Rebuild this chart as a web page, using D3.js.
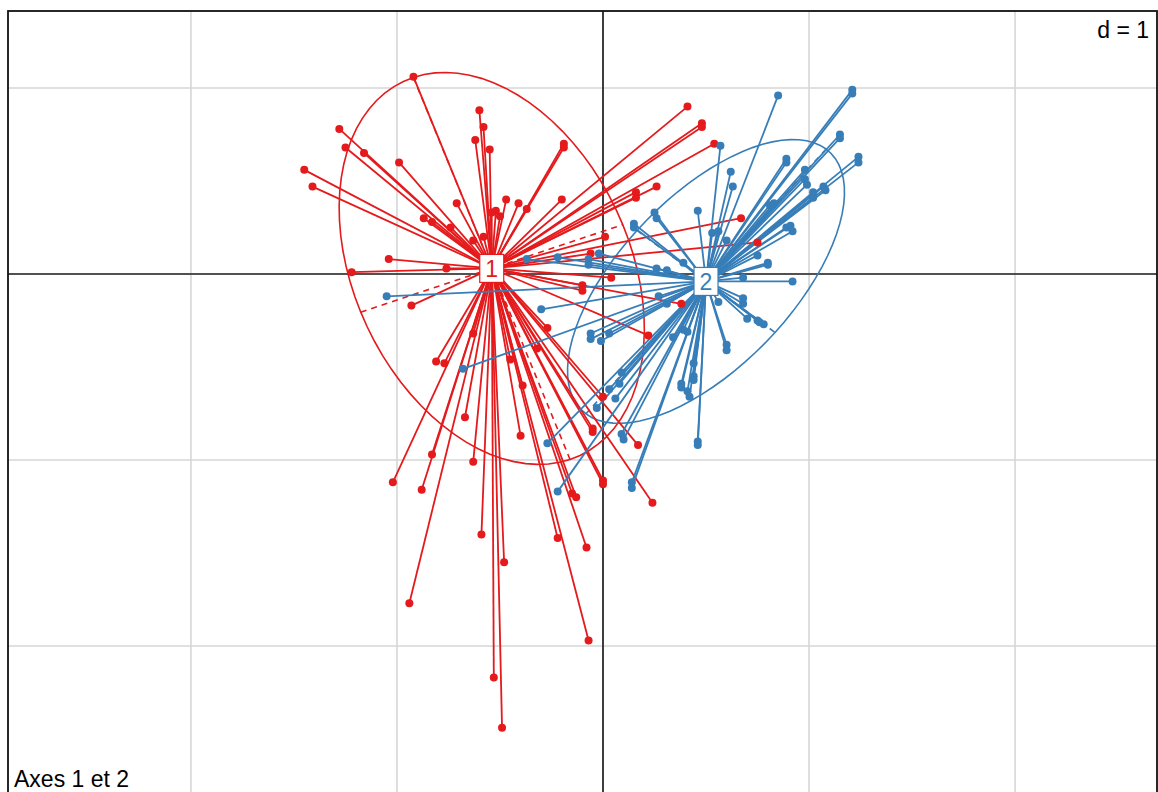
<!DOCTYPE html>
<html>
<head>
<meta charset="utf-8">
<script src="https://cdn.jsdelivr.net/npm/d3@7"></script>
<style>
  body { margin: 0; background: #fff; }
  svg { display: block; font-family: "Liberation Sans", Arial, sans-serif; }
</style>
</head>
<body>
<div id="chart"></div>
<script>
// group 1 points (in axis units)
var redX = [-0.92, -0.60, -0.58, -0.62, -0.55, -1.28, -1.25, -1.16, -0.99, -1.45, -1.41, -0.71, -0.47, -0.41, -0.37,
  -0.87, -0.83, -0.74, -0.63, -0.58, -0.52, -0.54, -0.50, -1.04, -1.22, -0.76, -0.20, -0.19, -0.19, 0.41,
  0.48, 0.48, 0.54, 0.16, 0.16, 0.26, 0.01, -0.06, -0.10, -0.10, 0.04, 0.38, -0.93, 0.67, 0.75,
  -0.63, -0.81, -0.77, -0.27, -0.32, -0.45, -0.39, -0.67, -0.40, -0.05, -0.05, 0.22, 0.00, 0.17, -1.02,
  -0.83, -0.88, -0.63, 0.24, -0.15, -0.13, -0.59, -0.22, -0.94, -0.48, -0.53, -0.49, -0.08, -0.07, 0.00, 0.00]
var redY = [1.06, 0.88, 0.79, 0.72, 0.67, 0.78, 0.68, 0.65, 0.60, 0.56, 0.47, 0.38, 0.40, 0.38, 0.35,
  0.30, 0.28, 0.25, 0.18, 0.20, 0.34, 0.33, 0.31, 0.08, 0.01, 0.03, 0.40, 0.70, 0.68, 0.90,
  0.81, 0.79, 0.70, 0.44, 0.41, 0.47, 0.20, 0.11, -0.06, -0.09, -0.02, -0.16, -0.17, 0.30, 0.17,
  -0.32, -0.47, -0.48, -0.29, -0.40, -0.46, -0.60, -0.77, -0.87, -0.83, -0.85, -0.33, -1.11, -0.92, -1.12,
  -0.97, -1.16, -1.01, -1.23, -1.18, -1.20, -1.40, -1.42, -1.77, -1.55, -2.17, -2.44, -1.47, -1.97, -0.66, -1.13]

// group 2 points
var blueX = [0.85, 1.21, 1.21, 1.15, 1.15, 1.24, 1.24, 0.57, 0.89, 0.89, 0.62, 0.63, 0.98, 0.98, 0.99,
  1.07, 1.08, 1.02, 1.02, 0.81, 0.46, 0.89, 0.91, 0.92, 0.53, 0.56, 0.60, 0.75, 0.80, 0.80,
  0.68, 0.92, 0.39, 0.15, 0.15, 0.25, 0.26, 0.26, 0.31, -0.22, -0.02, -0.07, -0.07, -0.37, -1.05,
  -0.30, 0.27, 0.31, 0.56, 0.68, 0.68, 0.70, 0.75, 0.76, 0.78, 0.60, 0.60, 0.44, 0.44, 0.44,
  0.38, 0.38, 0.41, 0.42, 0.34, 0.39, 0.41, -0.06, -0.06, -0.01, 0.03, 0.09, 0.08, 0.03, 0.06,
  -0.03, -0.27, 0.09, 0.10, 0.46, 0.46, -0.22, 0.14, 0.14, -0.68, 0.83]
var blueY = [0.96, 0.99, 0.97, 0.75, 0.73, 0.63, 0.60, 0.69, 0.62, 0.60, 0.55, 0.47, 0.56, 0.51, 0.48,
  0.47, 0.45, 0.44, 0.41, 0.37, 0.34, 0.25, 0.26, 0.23, 0.22, 0.23, 0.18, 0.10, 0.06, 0.05,
  -0.02, -0.04, 0.06, 0.27, 0.25, 0.33, 0.30, 0.03, 0.02, 0.09, 0.11, 0.08, 0.05, 0.08, -0.12,
  -0.19, -0.12, -0.16, -0.15, -0.13, -0.16, -0.24, -0.25, -0.26, -0.27, -0.38, -0.41, -0.48, -0.55, -0.57,
  -0.59, -0.61, -0.63, -0.66, -0.34, -0.30, -0.31, -0.32, -0.35, -0.36, -0.32, -0.53, -0.59, -0.62, -0.67,
  -0.72, -0.91, -0.86, -0.89, -0.90, -0.92, -1.17, -1.12, -1.15, -0.51, 0.38]

var groupNames = ["1", "2"]
var groupColors = ["#E41A1C", "#377EB8"]
var centroidX = [-0.54, 0.50]
var centroidY = [0.03, -0.04]
// ellipse semi axes and angle of the first axis (degrees)
var ellA = [1.095, 0.92]
var ellB = [0.678, 0.433]
var ellAngle = [110.3, 50.7]

var gridX = [-2, -1, 0, 1, 2]
var gridY = [-2, -1, 0, 1]
var xDomain = [-2.888, 2.689]
var yDomain = [-2.83, 1.414]

var width = 1158, height = 792
var frameLeft = 8, frameTop = 11, frameRight = 1157
var yPerUnit = 186

var svg = d3.select('#chart')
    .append('svg')
    .attr('width', width)
    .attr('height', height)

var x = d3.scaleLinear()
    .domain(xDomain)
    .range([frameLeft, frameRight])

var y = d3.scaleLinear()
    .domain(yDomain)
    .range([frameTop + (yDomain[1] - yDomain[0]) * yPerUnit, frameTop])

svg.append('clipPath')
    .attr('id', 'clip')
    .append('rect')
    .attr('x', x(xDomain[0]))
    .attr('y', y(yDomain[1]))
    .attr('width', x(xDomain[1]) - x(xDomain[0]))
    .attr('height', y(yDomain[0]) - y(yDomain[1]))

var plot = svg.append('g').attr('clip-path', 'url(#clip)')

// grid
plot.selectAll('.gx')
    .data(gridX)
    .enter()
    .append('line')
    .attr('x1', function(d){ return x(d) })
    .attr('x2', function(d){ return x(d) })
    .attr('y1', y(yDomain[0]))
    .attr('y2', y(yDomain[1]))
    .style('stroke', '#d6d6d6')
    .style('stroke-width', 1.6)

plot.selectAll('.gy')
    .data(gridY)
    .enter()
    .append('line')
    .attr('y1', function(d){ return y(d) })
    .attr('y2', function(d){ return y(d) })
    .attr('x1', x(xDomain[0]))
    .attr('x2', x(xDomain[1]))
    .style('stroke', '#d6d6d6')
    .style('stroke-width', 1.6)

// origin axes
plot.append('line')
    .attr('x1', x(0)).attr('x2', x(0))
    .attr('y1', y(yDomain[0])).attr('y2', y(yDomain[1]))
    .style('stroke', '#222').style('stroke-width', 1.7)
plot.append('line')
    .attr('y1', y(0)).attr('y2', y(0))
    .attr('x1', x(xDomain[0])).attr('x2', x(xDomain[1]))
    .style('stroke', '#222').style('stroke-width', 1.7)

var groups = [
    { xs: redX, ys: redY },
    { xs: blueX, ys: blueY }
]

function ellipsePoint(i, t) {
    var th = ellAngle[i] * Math.PI / 180
    var ca = ellA[i] * Math.cos(t), sb = ellB[i] * Math.sin(t)
    return [centroidX[i] + ca * Math.cos(th) - sb * Math.sin(th),
            centroidY[i] + ca * Math.sin(th) + sb * Math.cos(th)]
}

var ellLine = d3.line()
    .x(function(d){ return x(d[0]) })
    .y(function(d){ return y(d[1]) })
    .curve(d3.curveLinearClosed)

// ellipses and their dashed axes
groups.forEach(function(g, i) {
    var pts = d3.range(0, 2 * Math.PI, Math.PI / 40).map(function(t){ return ellipsePoint(i, t) })
    plot.append('path')
        .attr('d', ellLine(pts))
        .style('fill', 'none')
        .style('stroke', groupColors[i])
        .style('stroke-width', 1.6)

    var axesEnds = [[0, Math.PI], [Math.PI / 2, 3 * Math.PI / 2]]
    axesEnds.forEach(function(a) {
        var p = ellipsePoint(i, a[0]), q = ellipsePoint(i, a[1])
        plot.append('line')
            .attr('x1', x(p[0])).attr('y1', y(p[1]))
            .attr('x2', x(q[0])).attr('y2', y(q[1]))
            .style('stroke', groupColors[i])
            .style('stroke-width', 1.6)
            .style('stroke-dasharray', '6,5')
    })
})

// stars: segment from every point to its centroid
groups.forEach(function(g, i) {
    plot.append('g')
        .selectAll('line')
        .data(d3.range(g.xs.length))
        .enter()
        .append('line')
        .attr('x1', function(k){ return x(g.xs[k]) })
        .attr('y1', function(k){ return y(g.ys[k]) })
        .attr('x2', x(centroidX[i]))
        .attr('y2', y(centroidY[i]))
        .style('stroke', groupColors[i])
        .style('stroke-width', 1.8)
})

groups.forEach(function(g, i) {
    plot.append('g')
        .selectAll('circle')
        .data(d3.range(g.xs.length))
        .enter()
        .append('circle')
        .attr('cx', function(k){ return x(g.xs[k]) })
        .attr('cy', function(k){ return y(g.ys[k]) })
        .attr('r', 4)
        .style('fill', groupColors[i])
})

// centroid labels
groups.forEach(function(g, i) {
    var lab = plot.append('g')
        .attr('transform', 'translate(' + x(centroidX[i]) + ',' + y(centroidY[i]) + ')')
    lab.append('rect')
        .attr('x', -12).attr('y', -14)
        .attr('width', 24).attr('height', 28)
        .style('fill', '#fff')
        .style('stroke', groupColors[i])
        .style('stroke-width', 1.2)
    lab.append('text')
        .attr('text-anchor', 'middle')
        .attr('dy', '0.36em')
        .style('font-size', '23px')
        .style('fill', groupColors[i])
        .text(groupNames[i])
})

// frame
svg.append('rect')
    .attr('x', x(xDomain[0]))
    .attr('y', y(yDomain[1]))
    .attr('width', x(xDomain[1]) - x(xDomain[0]))
    .attr('height', y(yDomain[0]) - y(yDomain[1]))
    .style('fill', 'none')
    .style('stroke', '#111')
    .style('stroke-width', 1.8)

svg.append('text')
    .attr('x', x(xDomain[1]) - 8)
    .attr('y', 38)
    .attr('text-anchor', 'end')
    .style('font-size', '23px')
    .text('d = 1')

svg.append('text')
    .attr('x', x(xDomain[0]) + 6)
    .attr('y', 787)
    .style('font-size', '23px')
    .text('Axes 1 et 2')
</script>
</body>
</html>
